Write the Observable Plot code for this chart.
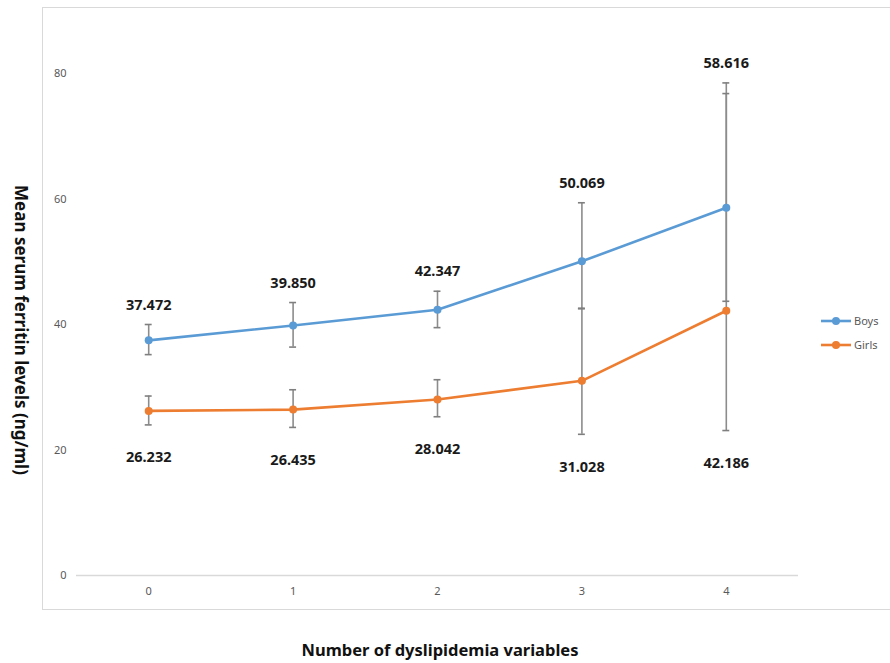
<!DOCTYPE html>
<html>
<head>
<meta charset="utf-8">
<script src="https://cdn.jsdelivr.net/npm/d3@7"></script>
<script src="https://cdn.jsdelivr.net/npm/@observablehq/plot@0.6"></script>
<style>
  html, body { margin: 0; padding: 0; background: #fff; }
  #wrap { position: relative; width: 890px; height: 663px; overflow: hidden; font-family: "Noto Sans", sans-serif; }
  #box { position: absolute; left: 42px; top: 7px; width: 900px; height: 603px; border: 1.5px solid #d9d9d9; box-sizing: border-box; }
  #ytitle { position: absolute; left: 21px; top: 330px; transform: translate(-50%, -50%) rotate(90deg); white-space: nowrap; font-weight: bold; font-size: 17px; color: #111; }
  #xtitle { position: absolute; left: 440px; top: 650px; transform: translate(-50%, -50%); white-space: nowrap; font-weight: bold; font-size: 16.5px; color: #111; line-height: 1; }
  .leg { position: absolute; left: 820px; display: flex; align-items: center; font-size: 11px; color: #595959; }
  #chart { position: absolute; left: 0; top: 0; }
</style>
</head>
<body>
<div id="wrap">
  <div id="box"></div>
  <div id="chart"></div>
  <div id="ytitle"></div>
  <div id="xtitle"></div>
  <div id="legend"></div>
</div>
<script>
const counts = [0, 1, 2, 3, 4];
const seriesNames = ["Boys", "Girls"];
const seriesColors = ["#5B9BD5", "#ED7D31"];
const boysMean = [37.472, 39.850, 42.347, 50.069, 58.616];
const boysUpper = [40.0, 43.5, 45.3, 59.4, 78.5];
const boysLower = [35.2, 36.4, 39.5, 42.5, 43.7];
const girlsMean = [26.232, 26.435, 28.042, 31.028, 42.186];
const girlsUpper = [28.6, 29.6, 31.2, 42.6, 76.8];
const girlsLower = [24.0, 23.6, 25.3, 22.5, 23.1];
const yTicks = [0, 20, 40, 60, 80];
const yTitle = "Mean serum ferritin levels (ng/ml)";
const xTitle = "Number of dyslipidemia variables";

const rows = [];
counts.forEach((c, i) => {
  rows.push({x: c, series: "Boys", mean: boysMean[i], lo: boysLower[i], hi: boysUpper[i]});
  rows.push({x: c, series: "Girls", mean: girlsMean[i], lo: girlsLower[i], hi: girlsUpper[i]});
});
const boys = rows.filter(d => d.series === "Boys");
const girls = rows.filter(d => d.series === "Girls");
const capHalf = 0.024;
const fmt = d3.format(".3f");

const chart = Plot.plot({
  width: 890,
  height: 663,
  marginLeft: 76,
  marginRight: 92,
  marginTop: 73,
  marginBottom: 88,
  style: {fontFamily: "'Noto Sans', sans-serif", background: "transparent"},
  x: {domain: [-0.5, 4.5], ticks: counts, tickSize: 0, tickPadding: 10, tickFormat: d => String(d), label: null},
  y: {domain: [0, 80], ticks: yTicks, tickSize: 0, tickPadding: 10, label: null},
  color: {domain: seriesNames, range: seriesColors},
  marks: [
    Plot.ruleY([0], {stroke: "#d9d9d9", strokeWidth: 1.5}),
    Plot.axisX({ticks: counts, tickSize: 0, tickPadding: 12, fontSize: 11, fill: "#595959", tickFormat: d => String(d), label: null}),
    Plot.axisY({ticks: yTicks, tickSize: 0, tickPadding: 10, fontSize: 11, fill: "#595959", label: null}),
    Plot.ruleX(rows, {x: "x", y1: "lo", y2: "hi", stroke: "#8c8c8c", strokeWidth: 1.6}),
    Plot.ruleY(rows, {y: "hi", x1: d => d.x - capHalf, x2: d => d.x + capHalf, stroke: "#7f7f7f", strokeWidth: 1.6}),
    Plot.ruleY(rows, {y: "lo", x1: d => d.x - capHalf, x2: d => d.x + capHalf, stroke: "#7f7f7f", strokeWidth: 1.6}),
    Plot.line(rows, {x: "x", y: "mean", z: "series", stroke: "series", strokeWidth: 2.6}),
    Plot.dot(rows, {x: "x", y: "mean", fill: "series", r: 4}),
    Plot.text(boys, {x: "x", y: "hi", text: d => fmt(d.mean), lineAnchor: "bottom", dy: -15, fontSize: 14.5, fontWeight: "bold", fill: "#1a1a1a"}),
    Plot.text(girls, {x: "x", y: "lo", text: d => fmt(d.mean), lineAnchor: "top", dy: 27, fontSize: 14.5, fontWeight: "bold", fill: "#1a1a1a"})
  ]
});
document.getElementById("chart").appendChild(chart);
document.getElementById("ytitle").textContent = yTitle;
document.getElementById("xtitle").textContent = xTitle;

const legend = document.getElementById("legend");
seriesNames.forEach((name, i) => {
  const item = document.createElement("div");
  item.className = "leg";
  item.style.top = (313 + i * 24) + "px";
  item.innerHTML = `<svg width="32" height="14"><line x1="1" y1="7" x2="31" y2="7" stroke="${seriesColors[i]}" stroke-width="2.6"/><circle cx="16" cy="7" r="4" fill="${seriesColors[i]}"/></svg><span style="margin-left:2px">${name}</span>`;
  legend.appendChild(item);
});
</script>
</body>
</html>
